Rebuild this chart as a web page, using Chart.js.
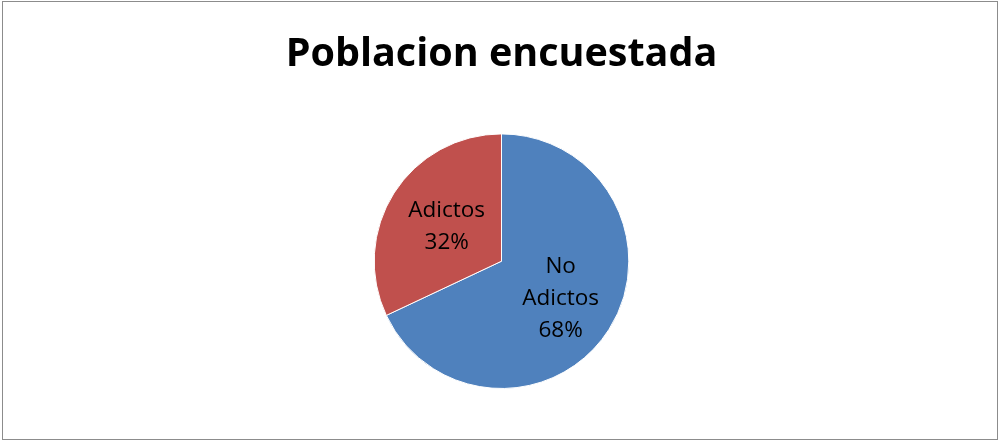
<!DOCTYPE html>
<html>
<head>
<meta charset="utf-8">
<script src="https://cdn.jsdelivr.net/npm/chart.js@4"></script>
<style>
    body { margin: 0; background: #fff; }
    #wrap { position: relative; width: 1000px; height: 441px; }
    #frame { position: absolute; left: 2px; top: 1px; width: 994px; height: 437px; border: 1px solid #8c8c8c; pointer-events: none; }
</style>
</head>
<body>
<div id="wrap">
    <canvas id="pieChart" width="1000" height="441"></canvas>
    <div id="frame"></div>
</div>
<script>
const categories = ['No Adictos', 'Adictos'];
const percentages = [68, 32];
const sliceColors = ['#4F81BD', '#C0504D'];

// draws "name NN%" inside each slice
const sliceLabels = {
    id: 'sliceLabels',
    afterDatasetsDraw(chart) {
        const ctx = chart.ctx;
        const meta = chart.getDatasetMeta(0);
        ctx.save();
        ctx.fillStyle = '#000';
        ctx.font = '22.5px "Open Sans", sans-serif';
        ctx.textAlign = 'center';
        ctx.textBaseline = 'middle';
        meta.data.forEach((arc, i) => {
            const mid = (arc.startAngle + arc.endAngle) / 2;
            const r = arc.outerRadius * (i === 0 ? 0.55 : 0.51);
            const x = arc.x + Math.cos(mid) * r;
            const y = arc.y + Math.sin(mid) * r;
            const words = categories[i].split(' ');
            const lines = [...words, percentages[i] + '%'];
            const lh = 32;
            lines.forEach((line, j) => {
                ctx.fillText(line, x, y + (j - (lines.length - 1) / 2) * lh);
            });
        });
        ctx.restore();
    }
};

new Chart(document.getElementById('pieChart'), {
    type: 'pie',
    data: {
        labels: categories,
        datasets: [{
            data: percentages,
            backgroundColor: sliceColors,
            borderColor: '#ffffff',
            borderWidth: 1
        }]
    },
    options: {
        responsive: false,
        animation: false,
        layout: { padding: { left: 3, bottom: 52 } },
        plugins: {
            legend: { display: false },
            tooltip: { enabled: false },
            title: {
                display: true,
                text: 'Poblacion encuestada',
                color: '#000',
                font: { family: '"Open Sans", sans-serif', size: 39.5, weight: 'bold' },
                padding: { top: 31, bottom: 55 }
            }
        }
    },
    plugins: [sliceLabels]
});
</script>
</body>
</html>
